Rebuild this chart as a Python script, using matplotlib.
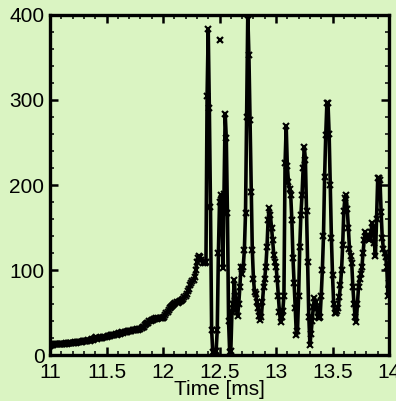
import numpy as np
import matplotlib.pyplot as plt
from matplotlib.ticker import MultipleLocator

# sampled signal, one value every 0.01 ms starting at 11.00 ms
t_start = 11.0
t_step = 0.01
signal = [
    11, 11.5, 12, 12, 12.5, 12.5, 13, 12.5, 13, 13,              # 11.0x
    13, 13.5, 13.5, 13, 14, 13.5, 14, 14, 14.5, 14,              # 11.1x
    14.5, 14.5, 15, 14.5, 15, 15.5, 15, 15.5, 15, 16,            # 11.2x
    16, 16.5, 16, 17, 17.5, 17, 18, 18.5, 18, 19,                # 11.3x
    19.5, 21, 19, 19.5, 20, 20.5, 20, 21, 21.5, 21,              # 11.4x
    21.5, 22, 22.5, 22, 23, 23.5, 23, 24, 24.5, 24,              # 11.5x
    25, 25.5, 25, 26, 26.5, 26, 27, 27.5, 27, 28,                # 11.6x
    28, 28.5, 28, 29, 29.5, 29, 30, 30.5, 30, 31,                # 11.7x
    31, 32, 33, 33.5, 35, 36, 37.5, 38, 39.5, 40,                # 11.8x
    41, 41.5, 42, 42.5, 43, 42.5, 43, 43.5, 43, 44,              # 11.9x
    44, 45, 47, 49, 51, 53, 55, 56, 58, 59,                      # 12.0x
    60, 61, 62, 61, 62, 64, 63, 65, 66, 68,                      # 12.1x
    70, 72, 75, 78, 82, 85, 87, 88, 92, 100,                     # 12.2x
    110, 114, 116, 115, 112, 108, 109, 108, 110, 305,            # 12.3x
    383, 290, 174, 30, 4, 2, 3, 5, 30, 120,                      # 12.4x
    180, 188, 185, 102, 190, 284, 255, 167, 40, 3,               # 12.5x
    5, 51, 60, 88, 70, 53, 46, 60, 80, 104,                      # 12.6x
    95, 104, 124, 167, 280, 400, 353, 276, 192, 124,             # 12.7x
    90, 74, 72, 62, 55, 46, 41, 45, 62, 80,                      # 12.8x
    90, 104, 127, 159, 173, 165, 150, 135, 118, 110,             # 12.9x
    104, 90, 70, 51, 39, 45, 52, 70, 226, 269,                   # 13.0x
    222, 204, 195, 188, 159, 114, 85, 55, 23, 28,                # 13.1x
    70, 127, 165, 188, 220, 245, 230, 170, 110, 45,              # 13.2x
    12, 25, 40, 57, 67, 62, 55, 45, 43, 45,                      # 13.3x
    70, 100, 140, 210, 259, 296, 296, 260, 200, 138,             # 13.4x
    94, 60, 49, 50, 52, 55, 68, 82, 100, 130,                    # 13.5x
    170, 185, 188, 172, 150, 125, 116, 108, 80, 60,              # 13.6x
    45, 39, 60, 80, 90, 95, 103, 120, 135, 145,                  # 13.7x
    140, 138, 135, 138, 145, 155, 150, 132, 116, 160,            # 13.8x
    208, 208, 206, 168, 138, 125, 120, 115, 104, 70,             # 13.9x
    85,                                                          # 14.00
]
# single stray sample not joined by the line
stray_t = [12.50]
stray_v = [371]

x_ticks = [11, 11.5, 12, 12.5, 13, 13.5, 14]
x_ticklabels = ['11', '11.5', '12', '12.5', '13', '13.5', '14']

time_ms = t_start + t_step * np.arange(len(signal))

bg = '#daf4c2'
plt.rcParams['font.family'] = ['Liberation Sans', 'DejaVu Sans']

fig = plt.figure(figsize=(3.96, 4.01), dpi=100, facecolor=bg)
ax = fig.add_axes([0.1263, 0.1147, 0.8561, 0.8479], facecolor=bg)

ax.plot(time_ms, signal, color='black', lw=2.6, marker='x', ms=4, mew=1.5)
ax.plot(stray_t, stray_v, ls='none', color='black', marker='x', ms=4.5, mew=1.6)

ax.set_xlim(11, 14)
ax.set_ylim(0, 400)
ax.set_xticks(x_ticks)
ax.set_xticklabels(x_ticklabels)
ax.xaxis.set_minor_locator(MultipleLocator(0.1))
ax.yaxis.set_major_locator(MultipleLocator(100))
ax.yaxis.set_minor_locator(MultipleLocator(20))

ax.tick_params(which='both', direction='in', top=True, right=True, labelsize=15)
ax.tick_params(which='major', length=6, width=1.8)
ax.tick_params(which='minor', length=3, width=1.1)
ax.tick_params(axis='x', pad=6)
ax.tick_params(axis='y', pad=4)
for s in ax.spines.values():
    s.set_linewidth(2.4)

ax.set_xlabel('Time [ms]', fontsize=15, labelpad=-1.5)

fig.savefig('out.png', dpi=100, facecolor=bg)
